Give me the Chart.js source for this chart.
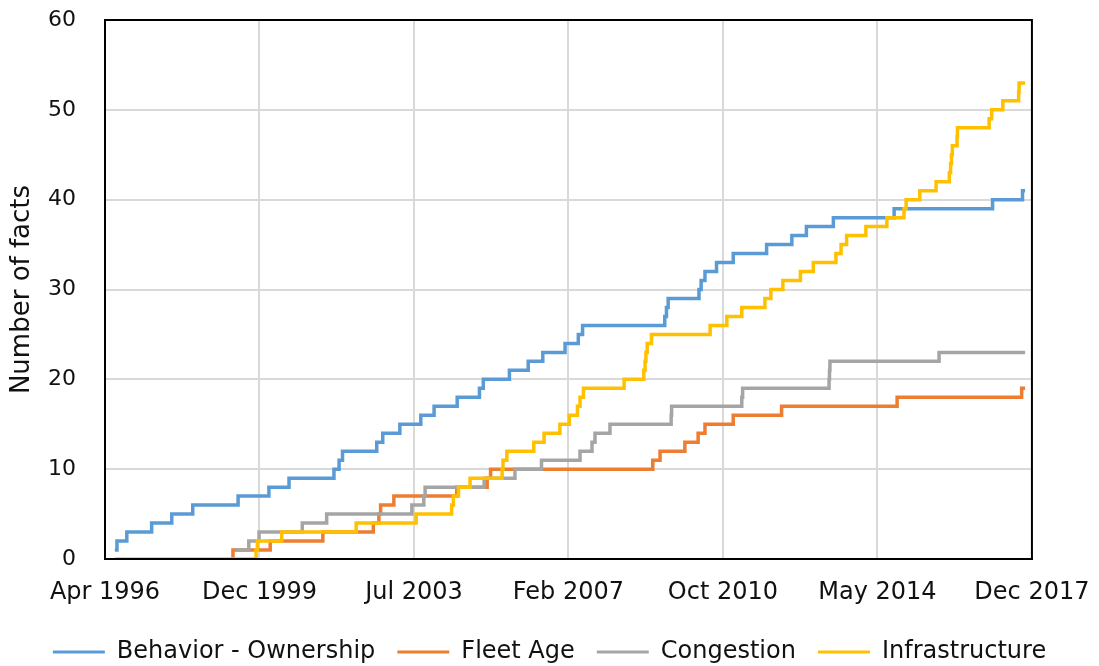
<!DOCTYPE html>
<html>
<head>
<meta charset="utf-8">
<script src="https://cdn.jsdelivr.net/npm/chart.js@4"></script>
<style>
  html, body { margin: 0; padding: 0; background: #fff; }
</style>
</head>
<body>
<canvas id="chart" width="1099" height="666"></canvas>
<script>
// ============ data (decimal years / cumulative number of facts) ============
const X_MIN = 1996.30, X_MAX = 2017.96;
const TICK_LABELS = ['Apr 1996', 'Dec 1999', 'Jul 2003', 'Feb 2007', 'Oct 2010', 'May 2014', 'Dec 2017'];
const Y_TICKS = [0, 10, 20, 30, 40, 50, 60];
const SERIES_NAMES = ['Behavior - Ownership', 'Fleet Age', 'Congestion', 'Infrastructure'];

const BEHAVIOR_X = [1996.53, 1996.58, 1996.81, 1997.39, 1997.86, 1998.35, 1999.41, 2000.13, 2000.60, 2001.65,
  2001.77, 2001.85, 2002.65, 2002.79, 2003.19, 2003.68, 2003.99, 2004.53, 2005.05, 2005.14,
  2005.75, 2006.19, 2006.53, 2007.05, 2007.36, 2007.46, 2009.38, 2009.42, 2009.46, 2010.18,
  2010.23, 2010.32, 2010.59, 2010.98, 2011.76, 2012.35, 2012.69, 2013.32, 2014.74, 2017.04,
  2017.74, 2017.80];
const BEHAVIOR_Y = [1, 2, 3, 4, 5, 6, 7, 8, 9, 10,
  11, 12, 13, 14, 15, 16, 17, 18, 19, 20,
  21, 22, 23, 24, 25, 26, 27, 28, 29, 30,
  31, 32, 33, 34, 35, 36, 37, 38, 39, 40,
  41, 41];

const FLEET_X = [1999.27, 1999.29, 2000.16, 2001.39, 2002.57, 2002.70, 2002.74, 2003.05, 2004.52, 2005.23,
  2005.31, 2009.10, 2009.27, 2009.85, 2010.16, 2010.32, 2010.98, 2012.11, 2014.81, 2017.72,
  2017.80];
const FLEET_Y = [0, 1, 2, 3, 4, 5, 6, 7, 8, 9,
  10, 11, 12, 13, 14, 15, 16, 17, 18, 19,
  19];

const CONGESTION_X = [1999.36, 1999.66, 1999.90, 2000.91, 2001.48, 2003.47, 2003.75, 2003.78, 2005.16, 2005.88,
  2006.50, 2007.40, 2007.68, 2007.75, 2008.10, 2009.53, 2009.54, 2011.18, 2011.20, 2013.22,
  2013.23, 2013.24, 2015.79, 2017.80];
const CONGESTION_Y = [1, 2, 3, 4, 5, 6, 7, 8, 9, 10,
  11, 12, 13, 14, 15, 16, 17, 18, 19, 20,
  21, 22, 23, 23];

const INFRA_X = [1996.53, 1999.83, 1999.86, 2000.43, 2002.17, 2003.57, 2004.40, 2004.44, 2004.56, 2004.83,
  2005.58, 2005.60, 2005.69, 2006.32, 2006.56, 2006.93, 2007.15, 2007.34, 2007.40, 2007.48,
  2008.43, 2008.89, 2008.92, 2008.94, 2008.97, 2009.07, 2010.44, 2010.83, 2011.18, 2011.72,
  2011.86, 2012.14, 2012.55, 2012.85, 2013.38, 2013.50, 2013.63, 2014.08, 2014.57, 2014.97,
  2015.02, 2015.34, 2015.72, 2016.03, 2016.06, 2016.08, 2016.10, 2016.21, 2016.22, 2016.96,
  2017.02, 2017.28, 2017.65, 2017.66, 2017.80];
const INFRA_Y = [0, 1, 2, 3, 4, 5, 6, 7, 8, 9,
  10, 11, 12, 13, 14, 15, 16, 17, 18, 19,
  20, 21, 22, 23, 24, 25, 26, 27, 28, 29,
  30, 31, 32, 33, 34, 35, 36, 37, 38, 39,
  40, 41, 42, 43, 44, 45, 46, 47, 48, 49,
  50, 51, 52, 53, 53];

const COLORS = ['#5B9BD5', '#ED7D31', '#A5A5A5', '#FFC000'];

// ============ chart ============
const FONT = "'DejaVu Sans', sans-serif";
const pts = (xs, ys) => xs.map((x, i) => ({x: x, y: ys[i]}));
const series = [
  pts(BEHAVIOR_X, BEHAVIOR_Y),
  pts(FLEET_X, FLEET_Y),
  pts(CONGESTION_X, CONGESTION_Y),
  pts(INFRA_X, INFRA_Y)
];

// black frame round the plot area (top and right too)
const framePlugin = {
  id: 'frame',
  afterDatasetsDraw(chart) {
    const a = chart.chartArea, ctx = chart.ctx;
    ctx.save();
    ctx.strokeStyle = '#000';
    ctx.lineWidth = 2;
    ctx.strokeRect(a.left, a.top, a.right - a.left, a.bottom - a.top);
    ctx.restore();
  }
};

new Chart(document.getElementById('chart').getContext('2d'), {
  type: 'line',
  data: {
    datasets: series.map((d, i) => ({
      label: SERIES_NAMES[i],
      data: d,
      borderColor: COLORS[i],
      backgroundColor: COLORS[i],
      borderWidth: 3.5,
      pointRadius: 0,
      stepped: true,
      fill: false,
      order: 3 - i
    }))
  },
  plugins: [framePlugin],
  options: {
    responsive: false,
    animation: false,
    devicePixelRatio: 1,
    layout: {padding: {top: 20, right: 0, left: 0, bottom: -8}},
    plugins: {
      tooltip: {enabled: false},
      legend: {
        position: 'bottom',
        labels: {
          color: '#111',
          font: {family: FONT, size: 24},
          boxWidth: 52,
          boxHeight: 3,
          padding: 22,
          generateLabels(chart) {
            return Chart.defaults.plugins.legend.labels.generateLabels(chart)
              .sort((a, b) => a.datasetIndex - b.datasetIndex)
              .map(l => Object.assign(l, {lineWidth: 0, fillStyle: COLORS[l.datasetIndex]}));
          }
        }
      }
    },
    scales: {
      x: {
        type: 'linear',
        min: X_MIN,
        max: X_MAX,
        afterBuildTicks(scale) {
          const step = (X_MAX - X_MIN) / (TICK_LABELS.length - 1);
          scale.ticks = TICK_LABELS.map((_, i) => ({value: X_MIN + i * step}));
        },
        afterFit(scale) { scale.height = 59; },
        grid: {color: '#D9D9D9', lineWidth: 2, drawTicks: true, tickLength: 10, tickColor: 'rgba(0,0,0,0)'},
        border: {color: '#000', width: 2},
        ticks: {
          color: '#111',
          font: {family: FONT, size: 24},
          padding: 9.5,
          maxRotation: 0,
          autoSkip: false,
          callback: (v, i) => TICK_LABELS[i]
        }
      },
      y: {
        min: 0,
        max: 60,
        afterBuildTicks(scale) { scale.ticks = Y_TICKS.map(v => ({value: v})); },
        afterFit(scale) { scale.width = 105; },
        grid: {color: '#D9D9D9', lineWidth: 2, drawTicks: true, tickLength: 26, tickColor: 'rgba(0,0,0,0)'},
        border: {color: '#000', width: 2},
        ticks: {
          color: '#111',
          font: {family: FONT, size: 22},
          padding: 3
        },
        title: {
          display: true,
          text: 'Number of facts',
          color: '#111',
          font: {family: FONT, size: 26},
          padding: {top: 7, bottom: 0}
        }
      }
    }
  }
});
</script>
</body>
</html>
